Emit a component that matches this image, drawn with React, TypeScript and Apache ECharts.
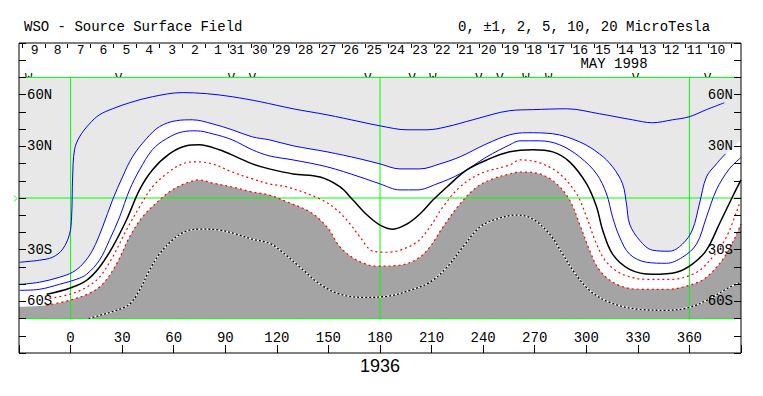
import React, { useEffect, useRef } from 'react';
import * as echarts from 'echarts';

// Contours of the source surface field, [Carrington longitude, latitude]
const blue5 = [[-29.6,-37.3],[-18,-36.1],[-10.5,-34.4],[-4.6,-29.7],[-0.6,-21],[0.6,-11],[1.2,12.2],[2.3,28],[5.2,35.5],[11,43.1],[16.8,48.3],[24.4,51.8],[34.3,55.3],[47.6,58.8],[65,61.2],[79,60.6],[94,58.8],[110.3,55.9],[129.5,51.8],[149.2,48.3],[168.4,44.3],[180,41.9],[195.7,39.6],[207.3,39.6],[218.9,41.4],[234,45.4],[255.5,50.7],[268.8,51.3],[288.6,51.8],[307.7,48.9],[326.9,45.4],[338.5,43.7],[350.1,45.4],[360,47.2],[369.9,51.3],[380.3,55.3]];
const blue2 = [[-30,-50.2],[-18,-48.9],[-6.4,-46],[1.2,-43.1],[7,-38.4],[12.8,-30.3],[18.6,-16.9],[24.4,-1.2],[30.2,12.2],[36,23.9],[44.1,34.4],[51.7,41.4],[61.5,44.9],[70.8,45.4],[82.5,43.1],[94,39.6],[105.7,35.5],[115.5,33.8],[129.5,30.3],[149.2,26.8],[168.4,22.7],[180,19.8],[191.6,16.9],[203.2,16.9],[214.8,19.8],[226.5,23.9],[242.1,31.5],[255.5,36.7],[265.4,37.9],[280.5,37.3],[296.1,32.6],[307.7,25.6],[315.3,18.1],[321.1,8.2],[323.4,-3.5],[325.2,-15.1],[331,-24.5],[338.5,-30.3],[348.4,-30.9],[355.9,-26.8],[361.7,-18.6],[365.8,-3.5],[369.9,12.2],[375.7,19.8],[380.9,25.6],[390,33.5]];
const blue1 = [[-29.6,-53.6],[-18,-53],[-6.4,-50.1],[3.5,-47.2],[9.3,-44.3],[16.8,-36.1],[22.6,-24.5],[28.5,-11.1],[34.3,4.7],[40.1,16.3],[47.6,28],[55.7,34.4],[65,38.4],[73.2,39],[82.5,37.3],[94,33.8],[105.7,28],[115.5,24.5],[129.5,22.1],[149.2,18.1],[168.4,12.2],[180,8.2],[191.6,4.7],[201.5,4.7],[213.1,8.2],[226.5,14],[242.1,23.9],[255.5,30.9],[261.3,33.2],[272.9,33.2],[284.5,30.9],[296.1,23.9],[306,14],[311.8,2.3],[315.3,-11.1],[319.4,-22.7],[325.2,-32.6],[335,-37.3],[346.6,-37.9],[355.9,-34.4],[364.1,-26.8],[369.9,-11.1],[375.7,4.7],[383.2,16.9],[390,23.5]];
const neutral = [[-13.9,-55.9],[-0.6,-52.4],[9.3,-47.8],[16.8,-40.2],[24.4,-28.5],[32.5,-12.8],[40.1,4.7],[47.6,16.3],[57.5,25.6],[67.4,30.3],[74.9,30.9],[86.5,28],[96.4,23.9],[105.7,19.8],[115.5,16.9],[129.5,14],[145.2,12.2],[156.8,6.4],[164.3,-1.2],[172.5,-9.9],[180,-15.7],[187.6,-18.1],[195.7,-15.1],[203.2,-9.3],[210.8,-1.2],[218.9,6.4],[230.5,16.3],[242.1,22.1],[255.5,26.8],[268.8,28],[280.5,26.8],[290.3,21],[300.2,8.2],[306,-5.2],[309.5,-18.6],[315.3,-32.6],[325.2,-41.4],[338.5,-44.3],[352.5,-43.1],[361.7,-38.4],[369.9,-30.3],[377.4,-15.1],[385,0.6],[390,10.5]];
const red1 = [[-15.1,-58.8],[-0.6,-55.9],[9.3,-51.8],[16.8,-46],[24.4,-34.4],[32.5,-18.6],[40.1,-5.2],[47.6,6.4],[55.7,14],[65,19.8],[73.2,21],[82.5,19.8],[94,15.1],[105.7,11.1],[115.5,8.2],[126,6.4],[145.2,-0.6],[155,-7],[162.6,-15.1],[168.4,-22.7],[175.9,-30.9],[184.1,-31.5],[191.6,-30.3],[201.5,-25.6],[209,-16.9],[216.6,-5.2],[226.5,6.4],[238.1,14],[255.5,19.2],[261.3,22.1],[272.9,20.4],[284.5,14],[294.4,2.3],[300.2,-11.1],[306,-26.8],[311.8,-37.3],[321.1,-44.3],[335,-47.2],[350.1,-47.2],[364.1,-43.1],[373.4,-34.4],[381.5,-22.7],[389,-3.5]];
const red2 = [[-30,-63.2],[-13.9,-62.3],[-0.6,-59.4],[11,-55.3],[18.6,-50.1],[26.7,-38.4],[34.3,-22.7],[41.8,-11.1],[51.7,-1.2],[59.2,4.7],[67.4,8.7],[74.9,10.5],[82.5,8.7],[94,6.4],[105.7,3.5],[115.5,1.7],[126,-2.3],[139.4,-8.2],[149.2,-16.9],[156.8,-28.5],[166.6,-36.1],[178.3,-39.6],[191.6,-39],[201.5,-35.5],[209,-28.5],[216.6,-16.9],[226.5,-3.5],[236.3,6.4],[245.6,11.1],[255.5,14],[261.3,15.1],[272.9,14],[282.8,8.2],[290.3,-1.2],[296.1,-15.1],[301.9,-30.3],[307.7,-41.9],[317.6,-50.1],[331,-53],[346.6,-53],[360,-50.7],[369.9,-46],[381.5,-32.6],[390,-15.1]];
const pos5 = [[10.5,-70],[16.8,-68.2],[26.7,-65.2],[34.3,-61.7],[40.1,-53.6],[45.9,-41.9],[51.7,-32.6],[59.2,-24.5],[67.4,-19.2],[76.6,-18.1],[86.5,-18.6],[96.4,-21],[105.7,-23.9],[115.5,-26.2],[121.9,-30.3],[133.5,-40.2],[145.2,-50.1],[156.8,-55.9],[170.1,-57.7],[184.1,-57.1],[197.4,-53.6],[209,-48.9],[218.9,-40.2],[228.2,-28.5],[238.1,-16.9],[247.9,-12.2],[259.6,-9.9],[268.8,-12.2],[278.7,-21],[286.3,-32.6],[292.1,-41.9],[301.9,-53.6],[313.6,-60.6],[331,-64.7],[346.6,-65.2],[360,-63.5],[370,-59.4],[383.3,-51.8],[390,-48.9]];

// Axis / header labels
const xTicks = [0, 30, 60, 90, 120, 150, 180, 210, 240, 270, 300, 330, 360];
const latLabels: Record<string, string> = { '60': '60N', '30': '30N', '-30': '30S', '-60': '60S' };
const meridians = [0, 180, 360];
const parallels = [70, 0, -70];
const dayLabels = ['9','8','7','6','5','4','3','2','1','31','30','29','28','27','26','25','24','23','22','21','20','19','18','17','16','15','14','13','12','11','10',''];
const dayLon0 = -28.45;
const degPerDay = 13.315;
const markerLons = [-24.4, 27.9, 93.5, 105.7, 173, 198.6, 210.8, 237.5, 249.7, 264.8, 278.1, 328.7, 370.5];
const markerKinds = ['W','V','V','V','V','V','W','V','V','W','W','V','V'];

const FONT = '"Liberation Mono", "DejaVu Sans Mono", monospace';
const LIGHT = '#e8e8e8';
const DARK = '#a4a4a4';
const SMOOTH = 0.35;

export default function App() {
  const ref = useRef<HTMLDivElement>(null);
  useEffect(() => {
    if (!ref.current) return;
    const chart = echarts.init(ref.current, undefined, { renderer: 'svg' });
    const lineSeries = (data: number[][], style: any, z: number) => ({
      type: 'line', data, smooth: SMOOTH, symbol: 'none', silent: true, z,
      lineStyle: style,
    });
    const fillSeries = (data: number[][], color: string, z: number, smooth: number) => ({
      type: 'line', data, smooth, symbol: 'none', silent: true, z,
      lineStyle: { width: 0, opacity: 0 },
      areaStyle: { color, opacity: 1, origin: -70 },
    });
    const series: any[] = [];
    // observation markers (partly hidden by the plot area)
    series.push({
      type: 'custom', z: 1, silent: true,
      data: markerLons.map((l) => [l, 70]),
      renderItem: (params: any, api: any) => {
        const p = api.coord([api.value(0), api.value(1)]);
        return {
          type: 'text', x: p[0], y: p[1] + 2,
          style: { text: markerKinds[params.dataIndex], align: 'center', verticalAlign: 'middle', font: '12px ' + FONT, fill: '#000' },
        };
      },
    });
    series.push(fillSeries([[-30, 70], [390, 70]], LIGHT, 2, 0));
    series.push(fillSeries(blue2, '#ffffff', 3, SMOOTH));
    series.push(fillSeries(red2, DARK, 4, SMOOTH));
    meridians.forEach((m) => series.push({ type: 'line', data: [[m, -70], [m, 70]], symbol: 'none', silent: true, z: 5, lineStyle: { color: '#00ff00', width: 1 } }));
    parallels.forEach((p) => series.push({ type: 'line', data: [[-30, p], [390, p]], symbol: 'none', silent: true, z: 5, lineStyle: { color: '#00ff00', width: 1 } }));
    series.push(lineSeries(blue5, { color: '#0000ff', width: 1 }, 6));
    series.push(lineSeries(blue2.slice(0, -1), { color: '#0000ff', width: 1 }, 6));
    series.push(lineSeries(blue1, { color: '#0000ff', width: 1 }, 6));
    series.push(lineSeries(neutral, { color: '#000000', width: 1.5 }, 6));
    series.push(lineSeries(red1, { color: '#ff0000', width: 1.2, type: [2, 3] }, 6));
    series.push(lineSeries(red2.slice(1), { color: '#ff0000', width: 1.2, type: [2, 3] }, 6));
    series.push(lineSeries(pos5, { color: '#ffffff', width: 1.3 }, 6));
    series.push(lineSeries(pos5, { color: '#000000', width: 1.3, type: [2, 2] }, 7));
    // longitude labels along the bottom axis
    series.push({
      type: 'custom', z: 10, silent: true, clip: false,
      data: xTicks.map((v) => [v, -90]),
      renderItem: (params: any, api: any) => {
        const p = api.coord([api.value(0), api.value(1)]);
        return {
          type: 'text', x: p[0], y: p[1] - 15,
          style: { text: String(xTicks[params.dataIndex]), align: 'center', verticalAlign: 'middle', font: '14px ' + FONT, fill: '#000' },
        };
      },
    });
    // day header
    series.push({
      type: 'custom', z: 10, silent: true, clip: false,
      data: dayLabels.map((_, i) => [dayLon0 + i * degPerDay, 90]),
      renderItem: (params: any, api: any) => {
        const p = api.coord([api.value(0), api.value(1)]);
        const x = Math.round(p[0]) + 0.5;
        const children: any[] = [
          { type: 'line', shape: { x1: x, y1: p[1] + 1, x2: x, y2: p[1] + 5 }, style: { stroke: '#000', lineWidth: 1 } },
        ];
        const t = dayLabels[params.dataIndex];
        if (t) children.push({ type: 'text', x: p[0] + 17, y: p[1] + 7, style: { text: t, align: 'right', verticalAlign: 'middle', font: '13px ' + FONT, fill: '#000' } });
        return { type: 'group', children };
      },
    });

    const yAx = (position: string) => ({
      type: 'value', min: -90, max: 90, interval: 10, position, z: 10,
      axisLine: { show: false, onZero: false },
      axisTick: { inside: true, length: 7, lineStyle: { color: '#000' } },
      splitLine: { show: false },
      axisLabel: {
        inside: true, margin: 8, color: '#000', fontFamily: FONT, fontSize: 14,
        formatter: (v: number) => latLabels[String(v)] || '',
      },
    });

    chart.setOption({
      animation: false,
      grid: { left: 19, right: 22, top: 43, bottom: 43, show: true, borderColor: '#000', borderWidth: 1, backgroundColor: 'transparent', z: 10 },
      xAxis: {
        type: 'value', min: -30, max: 390, interval: 30, position: 'bottom', z: 10,
        axisLine: { show: false, onZero: false },
        axisTick: { inside: true, length: 8, lineStyle: { color: '#000' } },
        splitLine: { show: false },
        axisLabel: { show: false },
      },
      yAxis: [yAx('left'), yAx('right')],
      series,
      graphic: [
        { type: 'text', x: 24, y: 27, style: { text: 'WSO - Source Surface Field', font: '14px ' + FONT, fill: '#000', verticalAlign: 'middle' } },
        { type: 'text', x: 458, y: 27, style: { text: '0, ±1, 2, 5, 10, 20 MicroTesla', font: '14px ' + FONT, fill: '#000', verticalAlign: 'middle' } },
        { type: 'text', x: 614, y: 64, style: { text: 'MAY 1998', font: '14px ' + FONT, fill: '#000', align: 'center', verticalAlign: 'middle' } },
        { type: 'text', x: 380, y: 366, style: { text: '1936', font: '18px "Liberation Sans", sans-serif', fill: '#000', align: 'center', verticalAlign: 'middle' } },
        { type: 'polyline', shape: { points: [[14, 195.5], [17, 198.5], [14, 201.5]] }, style: { stroke: '#00ff00', fill: 'none', lineWidth: 1 } },
      ],
    });
    return () => chart.dispose();
  }, []);
  return <div ref={ref} style={{ position: 'fixed', left: 0, top: 0, width: 763, height: 396, background: '#fff' }} />;
}
